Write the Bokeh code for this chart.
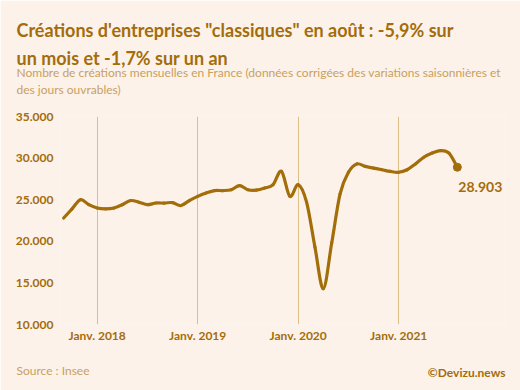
import pandas as pd
from bokeh.plotting import figure
from bokeh.models import FixedTicker, Label, Title, LinearAxis, ColumnDataSource
from bokeh.embed import file_html
from bokeh.resources import INLINE

# Monthly "classic" company creations in France (seasonally and working-day adjusted)
debut, fin = "2017-09", "2021-08"
creations = [
    22800, 23900, 25000, 24400,                                              # 2017 (sept.-déc.)
    24000, 23900, 24000, 24400, 24900, 24700, 24400, 24600, 24600, 24650, 24300, 24900,  # 2018
    25400, 25800, 26100, 26100, 26200, 26700, 26200, 26150, 26400, 26800, 28400, 25400,  # 2019
    26800, 24700, 19300, 14300, 19800, 25700, 28300, 29300, 29000, 28800, 28600, 28400,  # 2020
    28300, 28600, 29300, 30100, 30600, 30900, 30600, 28903,                  # 2021 (janv.-août)
]
annees = [2018, 2019, 2020, 2021]
y_ticks = [10000, 15000, 20000, 25000, 30000, 35000]
y_labels = ["10.000", "15.000", "20.000", "25.000", "30.000", "35.000"]

titre = ["Créations d'entreprises \"classiques\" en août : -5,9% sur", "un mois et -1,7% sur un an"]
sous_titre = ["Nombre de créations mensuelles en France (données corrigées des variations saisonnières et",
              "des jours ouvrables)"]
source = "Source : Insee"
credit = "©Devizu.news"

BG = "#FCF2EA"
GOLD = "#A36E09"
TITLE = "#A46C0A"
LIGHT = "#C9A060"
GRID = "#DCBE86"
FONT = "Lato"

mois = pd.period_range(debut, fin, freq="M")
# month index, 0 = January 2018
x = [(m.year - 2018) * 12 + m.month - 1 for m in mois]
y = creations

# smooth curve: Catmull-Rom segments expressed as cubic Bezier curves
n = len(x)
x0, y0, x1, y1, cx0, cy0, cx1, cy1 = ([] for _ in range(8))
for i in range(n - 1):
    pa = (x[i - 1], y[i - 1]) if i > 0 else (x[i], y[i])
    pb = (x[i], y[i])
    pc = (x[i + 1], y[i + 1])
    pd_ = (x[i + 2], y[i + 2]) if i + 2 < n else (x[i + 1], y[i + 1])
    x0.append(pb[0]); y0.append(pb[1]); x1.append(pc[0]); y1.append(pc[1])
    cx0.append(pb[0] + (pc[0] - pa[0]) / 6); cy0.append(pb[1] + (pc[1] - pa[1]) / 6)
    cx1.append(pc[0] - (pd_[0] - pb[0]) / 6); cy1.append(pc[1] - (pd_[1] - pb[1]) / 6)
curve = ColumnDataSource(dict(x0=x0, y0=y0, x1=x1, y1=y1, cx0=cx0, cy0=cy0, cx1=cx1, cy1=cy1))

p = figure(width=520, height=390, output_backend="svg", toolbar_location=None,
           x_range=(-4.38, 48.75), y_range=(10000, 35000),
           min_border_left=60, min_border_right=15, min_border_top=116, min_border_bottom=66,
           background_fill_color=BG, border_fill_color=BG, outline_line_color=None)

p.bezier(x0="x0", y0="y0", x1="x1", y1="y1", cx0="cx0", cy0="cy0", cx1="cx1", cy1="cy1",
         source=curve, line_color=GOLD, line_width=3.2, line_cap="round")
p.scatter([x[-1]], [y[-1]], size=8, color=GOLD)

jan_ticks = [(a - 2018) * 12 for a in annees]
p.xaxis.ticker = FixedTicker(ticks=jan_ticks)
p.xaxis.major_label_overrides = {t: f"Janv. {a}" for t, a in zip(jan_ticks, annees)}
p.yaxis.ticker = FixedTicker(ticks=y_ticks)
p.yaxis.major_label_overrides = dict(zip(y_ticks, y_labels))
for ax in (p.xaxis, p.yaxis):
    ax.axis_line_color = None
    ax.major_tick_line_color = None
    ax.minor_tick_line_color = None
    ax.major_tick_out = 0
    ax.major_tick_in = 0
    ax.minor_tick_out = 0
    ax.minor_tick_in = 0
    ax.major_label_text_font = FONT
    ax.major_label_text_font_style = "bold"
    ax.major_label_text_font_size = "12px"
    ax.major_label_text_color = TITLE
p.yaxis.major_label_standoff = 7
p.xaxis.major_label_standoff = 3

p.xgrid.ticker = FixedTicker(ticks=jan_ticks)
p.xgrid.grid_line_color = GRID
p.xgrid.grid_line_width = 1
p.ygrid.grid_line_color = None

# value of the last month
p.add_layout(Label(x=x[-1], y=y[-1], text=f"{y[-1]:,}".replace(",", "."),
                   x_offset=1, y_offset=-20, text_font=FONT, text_font_style="bold",
                   text_font_size="14px", text_color=TITLE, text_baseline="alphabetic"))


def gap(size, side):
    """Empty band of `size` pixels in a side panel: an axis whose only tick is invisible."""
    p.add_layout(LinearAxis(ticker=FixedTicker(ticks=[jan_ticks[0]]), major_tick_out=size,
                            major_tick_in=0, minor_tick_out=0, minor_tick_in=0,
                            major_label_standoff=0, major_label_overrides={jan_ticks[0]: ""},
                            major_label_text_font_size="0px",
                            axis_line_color=None, major_tick_line_color=None,
                            minor_tick_line_color=None), side)


def line_of_text(txt, side, size, color, style="normal", align="left", band=-15):
    """One text row whose own band has no height: it sits on the edge left by the previous band."""
    p.add_layout(Title(text=txt, align=align, offset=-44 if align == "left" else 0, standoff=band,
                       text_font=FONT, text_font_size=size, text_font_style=style,
                       text_color=color), side)


# headline and subtitle, stacked upwards from the chart frame
gap(27, "above")
line_of_text(sous_titre[1], "above", "12px", LIGHT)
gap(15, "above")
line_of_text(sous_titre[0], "above", "12px", LIGHT)
gap(12, "above")
line_of_text(titre[1], "above", "18px", TITLE, "bold", band=-21)
gap(25, "above")
line_of_text(titre[0], "above", "18px", TITLE, "bold", band=-21)
gap(2, "above")

# source and credit on one row under the month labels
gap(23, "below")
line_of_text(source, "below", "12px", LIGHT)
line_of_text(credit, "below", "12px", TITLE, "bold", align="right")
gap(2, "below")

open("out.html", "w").write(file_html(p, INLINE))
